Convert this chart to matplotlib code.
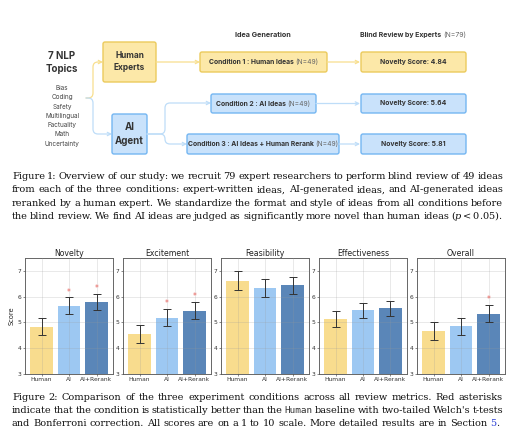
import matplotlib
matplotlib.use("Agg")
import matplotlib.pyplot as plt
from matplotlib.patches import FancyBboxPatch, FancyArrowPatch
from matplotlib.path import Path

# ---- data ----
topics = ["Bias", "Coding", "Safety", "Multilingual", "Factuality", "Math", "Uncertainty"]
novelty_scores = [4.84, 5.64, 5.81]

metrics = ["Novelty", "Excitement", "Feasibility", "Effectiveness", "Overall"]
conditions = ["Human", "AI", "AI+Rerank"]
human_mean = [4.84, 4.55, 6.61, 5.13, 4.68]
ai_mean = [5.64, 5.19, 6.34, 5.47, 4.85]
rerank_mean = [5.81, 5.46, 6.44, 5.55, 5.34]
human_err = [0.33, 0.34, 0.37, 0.32, 0.35]
ai_err = [0.33, 0.33, 0.35, 0.30, 0.32]
rerank_err = [0.31, 0.34, 0.32, 0.29, 0.34]
ai_sig = [True, True, False, False, False]
rerank_sig = [True, True, False, False, True]

bar_colors = ["#F8DC8E", "#9DC8F2", "#5A86B8"]

cap1 = [
    "Figure 1: Overview of our study: we recruit 79 expert researchers to perform blind review of 49 ideas",
    "from each of the three conditions: expert-written ideas, AI-generated ideas, and AI-generated ideas",
    "reranked by a human expert. We standardize the format and style of ideas from all conditions before",
    "the blind review. We find AI ideas are judged as significantly more novel than human ideas ($p<$0.05).",
]
cap2 = [
    "Figure 2: Comparison of the three experiment conditions across all review metrics. Red asterisks",
    "indicate that the condition is statistically better than the Human baseline with two-tailed Welch's t-tests",
    "and Bonferroni correction. All scores are on a 1 to 10 scale. More detailed results are in Section",
]

plt.rcParams["mathtext.fontset"] = "dejavuserif"
W, H = 530, 442
fig = plt.figure(figsize=(W / 100, H / 100), dpi=100)
ax0 = fig.add_axes([0, 0, 1, 1])
ax0.set_xlim(0, W)
ax0.set_ylim(H, 0)
ax0.axis("off")
R = fig.canvas.get_renderer()

SANS = "Inter"
TXT = "#333333"
Y_FACE, Y_EDGE, Y_LINE = "#FCE8A8", "#EBCA5C", "#F8DF8E"
B_FACE, B_EDGE, B_LINE = "#C9E2FB", "#74B6F2", "#BEDDF8"


def width_of(t):
    return t.get_window_extent(R).width


def box(x0, y0, x1, y1, face, edge):
    p = FancyBboxPatch((x0, y0), x1 - x0, y1 - y0, boxstyle="round,pad=0,rounding_size=2",
                       fc=face, ec=edge, lw=1.0)
    ax0.add_patch(p)


def elbow(x0, y0, xm, y1, x1, color, r=5):
    s = 1 if y1 > y0 else -1
    verts = [(x0, y0), (xm - r, y0), (xm, y0), (xm, y0 + s * r),
             (xm, y1 - s * r), (xm, y1), (xm + r, y1), (x1, y1)]
    codes = [Path.MOVETO, Path.LINETO, Path.CURVE3, Path.CURVE3,
             Path.LINETO, Path.CURVE3, Path.CURVE3, Path.LINETO]
    a = FancyArrowPatch(path=Path(verts, codes), arrowstyle="->", mutation_scale=6,
                        color=color, lw=0.9)
    ax0.add_patch(a)


def straight(x0, x1, y, color):
    a = FancyArrowPatch((x0, y), (x1, y), arrowstyle="->", mutation_scale=6,
                        color=color, lw=0.9, shrinkA=0, shrinkB=0)
    ax0.add_patch(a)


def two_part(xc, y, bold, light, fs):
    t1 = ax0.text(0, y, bold + " ", ha="left", va="center", fontsize=fs, fontweight="bold",
                  family=SANS, color=TXT)
    t2 = ax0.text(0, y, light, ha="left", va="center", fontsize=fs, family=SANS, color="#666666")
    w1, w2 = width_of(t1), width_of(t2)
    xs = xc - (w1 + w2) / 2
    t1.set_x(xs)
    t2.set_x(xs + w1)


# ---- diagram ----
ax0.text(62, 56, "7 NLP", ha="center", va="center", fontsize=7, fontweight="bold", family=SANS, color=TXT)
ax0.text(62, 69, "Topics", ha="center", va="center", fontsize=7, fontweight="bold", family=SANS, color=TXT)
for i, t in enumerate(topics):
    ax0.text(62, 88 + i * 9.3, t, ha="center", va="center", fontsize=4.6, family=SANS, color="#444444")

ax0.text(263, 35, "Idea Generation", ha="center", va="center", fontsize=5.2, fontweight="bold",
         family=SANS, color=TXT)
two_part(413, 35, "Blind Review by Experts", "(N=79)", 5.0)

elbow(86, 98, 93, 62, 103, Y_LINE)
elbow(86, 98, 93, 134, 112, B_LINE)
box(103, 42, 156, 82, Y_FACE, Y_EDGE)
ax0.text(129.5, 55, "Human", ha="center", va="center", fontsize=6, fontweight="bold", family=SANS, color=TXT)
ax0.text(129.5, 68, "Experts", ha="center", va="center", fontsize=6, fontweight="bold", family=SANS, color=TXT)
box(112, 114, 147, 154, B_FACE, B_EDGE)
ax0.text(129.5, 127, "AI", ha="center", va="center", fontsize=7, fontweight="bold", family=SANS, color=TXT)
ax0.text(129.5, 141, "Agent", ha="center", va="center", fontsize=7, fontweight="bold", family=SANS, color=TXT)

straight(156, 200, 62, Y_LINE)
elbow(147, 134, 165, 103, 211, B_LINE)
elbow(147, 134, 165, 144, 187, B_LINE)

conds = [("Condition 1 : Human Ideas", 200, 327, 52, 72, Y_FACE, Y_EDGE),
         ("Condition 2 : AI Ideas", 211, 316, 94, 113, B_FACE, B_EDGE),
         ("Condition 3 : AI Ideas + Human Rerank", 187, 339, 134, 154, B_FACE, B_EDGE)]
for i, (label, x0, x1, y0, y1, fc, ec) in enumerate(conds):
    box(x0, y0, x1, y1, fc, ec)
    yc = (y0 + y1) / 2
    two_part((x0 + x1) / 2, yc, label, "(N=49)", 4.9)
    box(361, y0, 466, y1, fc, ec)
    ax0.text(413.5, yc, "Novelty Score: %.2f" % novelty_scores[i], ha="center", va="center",
             fontsize=4.9, fontweight="bold", family=SANS, color=TXT)
    straight(x1, 360, yc, Y_LINE if i == 0 else B_LINE)


# ---- captions (justified) ----
SERIF = "DejaVu Serif"
X0, X1 = 12, 503
MIN_GAP = 1.9


def make_tokens(line, fs):
    out = []
    for w in line.split(" "):
        kw = dict(fontsize=fs, family=SERIF, color="#111111")
        if w == "Human" and "baseline" in line:
            kw.update(family="DejaVu Sans Mono", color="#333333", fontsize=fs * 0.95)
        out.append(ax0.text(0, 0, w, ha="left", va="baseline", **kw))
    return out


def tight_width(line, fs):
    toks = make_tokens(line, fs)
    total = sum(width_of(t) for t in toks) + MIN_GAP * (len(toks) - 1)
    for t in toks:
        t.remove()
    return total


# font size chosen so the tightest justified line still keeps a small word gap
CAP_FS = 7.0
for _ in range(3):
    widest = max(tight_width(l, CAP_FS) for l in cap1 + cap2[:2])
    CAP_FS = CAP_FS * (X1 - X0) / widest


def draw_line(line, y, justify=True):
    toks = make_tokens(line, CAP_FS)
    widths = [width_of(t) for t in toks]
    gap = 0.3 * CAP_FS * 100 / 72
    if justify and len(toks) > 1:
        gap = (X1 - X0 - sum(widths)) / (len(toks) - 1)
    x = X0
    for t, w in zip(toks, widths):
        t.set_x(x)
        t.set_y(y)
        x += w + gap
    return x - gap, gap


for i, line in enumerate(cap1):
    draw_line(line, 179 + i * 13.4)

for i, line in enumerate(cap2):
    xe, gap = draw_line(line, 400 + i * 13.0, justify=(i < 2))
y_last = 400 + 2 * 13.0
t5 = ax0.text(xe + gap, y_last, "5", ha="left", va="baseline", fontsize=CAP_FS, family=SERIF,
              color="#2A3FD6")
ax0.text(xe + gap + width_of(t5), y_last, ".", ha="left", va="baseline", fontsize=CAP_FS,
         family=SERIF, color="#111111")

# ---- bar panels ----
means = [human_mean, ai_mean, rerank_mean]
errs = [human_err, ai_err, rerank_err]
sigs = [None, ai_sig, rerank_sig]
lefts = [25, 123, 221, 319, 417]
for k, m in enumerate(metrics):
    ax = fig.add_axes([lefts[k] / W, (H - 374) / H, 88 / W, (374 - 258) / H])
    vals = [means[c][k] for c in range(3)]
    ers = [errs[c][k] for c in range(3)]
    ax.bar(range(3), [v - 3 for v in vals], bottom=3, width=0.82, color=bar_colors,
           edgecolor="none", zorder=1)
    ax.grid(True, color="#999999", alpha=0.3, linewidth=0.5, zorder=2)
    ax.set_axisbelow(False)
    ax.errorbar(range(3), vals, yerr=ers, fmt="none", ecolor="#333333", elinewidth=0.7,
                capsize=3, capthick=0.7, zorder=3)
    for c in (1, 2):
        if sigs[c][k]:
            ax.text(c, vals[c] + ers[c] + 0.03, "*", ha="center", va="bottom", color="#E8605A",
                    fontsize=5.5, zorder=4)
    ax.set_xlim(-0.6, 2.6)
    ax.set_ylim(3, 7.5)
    ax.set_yticks([3, 4, 5, 6, 7])
    ax.set_xticks(range(3))
    ax.set_xticklabels(conditions)
    ax.tick_params(labelsize=4.3, length=1.5, width=0.4, pad=1, colors="#333333")
    for s in ax.spines.values():
        s.set_color("#666666")
        s.set_linewidth(0.7)
    ax.set_title(m, fontsize=5.6, pad=1.5, color="#222222", family="DejaVu Sans")
    if k == 0:
        ax.set_ylabel("Score", fontsize=4.8, labelpad=2, color="#222222")

fig.savefig("out.png", dpi=100)
